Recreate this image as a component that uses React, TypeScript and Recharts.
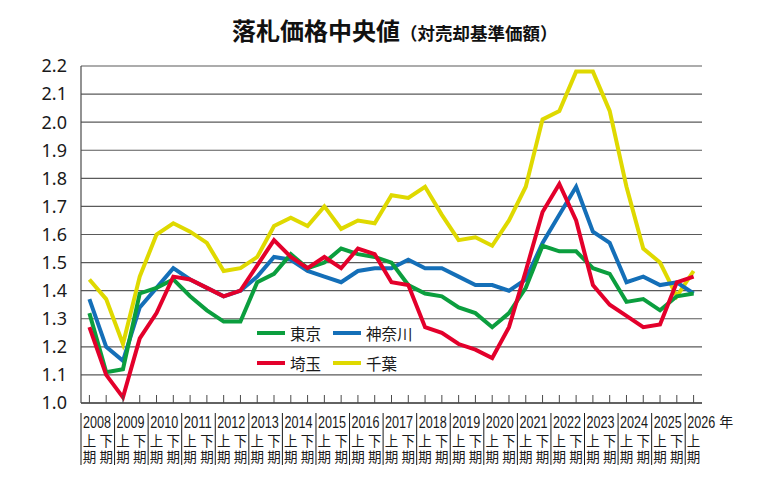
import { LineChart, Line, XAxis, YAxis, CartesianGrid } from "recharts";

// Half-year periods: 2008上期 … 2026上期
const YEARS = [
  "2008", "2009", "2010", "2011", "2012", "2013", "2014", "2015", "2016", "2017",
  "2018", "2019", "2020", "2021", "2022", "2023", "2024", "2025", "2026",
];
const HALVES = ["上", "下"];
const YEAR_UNIT = "年";
const PERIODS = YEARS.flatMap((y) => HALVES.map((h) => `${y}${h}期`)).slice(0, 37);

// 落札価格中央値 (対売却基準価額)
const TOKYO = [
  1.32, 1.11, 1.12, 1.39, 1.41, 1.44, 1.38, 1.33, 1.29, 1.29,
  1.43, 1.46, 1.53, 1.48, 1.5, 1.55, 1.53, 1.52, 1.5, 1.42,
  1.39, 1.38, 1.34, 1.32, 1.27, 1.32, 1.41, 1.56, 1.54, 1.54,
  1.48, 1.46, 1.36, 1.37, 1.33, 1.38, 1.39,
];
const KANAGAWA = [
  1.37, 1.2, 1.15, 1.34, 1.41, 1.48, 1.44, 1.41, 1.38, 1.4,
  1.45, 1.52, 1.51, 1.47, 1.45, 1.43, 1.47, 1.48, 1.48, 1.51,
  1.48, 1.48, 1.45, 1.42, 1.42, 1.4, 1.44, 1.57, 1.67, 1.77,
  1.61, 1.57, 1.43, 1.45, 1.42, 1.43, 1.39,
];
const SAITAMA = [
  1.27, 1.1, 1.02, 1.23, 1.32, 1.45, 1.44, 1.41, 1.38, 1.4,
  1.49, 1.58, 1.52, 1.48, 1.52, 1.48, 1.55, 1.53, 1.43, 1.42,
  1.27, 1.25, 1.21, 1.19, 1.16, 1.27, 1.47, 1.68, 1.78, 1.65,
  1.42, 1.35, 1.31, 1.27, 1.28, 1.43, 1.45,
];
const CHIBA = [
  1.44, 1.37, 1.21, 1.45, 1.6, 1.64, 1.61, 1.57, 1.47, 1.48,
  1.52, 1.63, 1.66, 1.63, 1.7, 1.62, 1.65, 1.64, 1.74, 1.73,
  1.77, 1.67, 1.58, 1.59, 1.56, 1.65, 1.77, 2.01, 2.04, 2.18,
  2.18, 2.04, 1.77, 1.55, 1.5, 1.38, 1.47,
];
const Y_TICKS = [1.0, 1.1, 1.2, 1.3, 1.4, 1.5, 1.6, 1.7, 1.8, 1.9, 2.0, 2.1, 2.2];

const SERIES = [
  { key: "tokyo", name: "東京", color: "#0b9e3e" },
  { key: "kanagawa", name: "神奈川", color: "#146fb8" },
  { key: "saitama", name: "埼玉", color: "#e3002b" },
  { key: "chiba", name: "千葉", color: "#dfd900" },
];
// later entries are painted on top
const DRAW_ORDER = ["chiba", "kanagawa", "tokyo", "saitama"];

const rows = PERIODS.map((period, i) => ({
  i,
  period,
  tokyo: TOKYO[i],
  kanagawa: KANAGAWA[i],
  saitama: SAITAMA[i],
  chiba: CHIBA[i],
}));

const W = 763;
const H = 496;
const MARGIN = { top: 66, right: 61, bottom: 8, left: 11 };
const Y_AXIS_W = 70;
const X_AXIS_H = H - MARGIN.top - MARGIN.bottom - 337;
const BAND = (W - MARGIN.left - MARGIN.right - Y_AXIS_W) / PERIODS.length;
const YEAR_TEXT_W = 28; // the source uses a condensed face; squeeze to fit each year cell

const INK = "#1a1a1a";
const AXIS = "#4a4a4a";
const CJK = "'Noto Sans CJK JP', 'Noto Sans', sans-serif";
const LATIN = "'Liberation Sans', 'Noto Sans', sans-serif";

function PeriodTick(props: any) {
  const { x, y, payload } = props;
  const i = payload.value as number;
  const half = i % 2;
  const yearIdx = Math.floor(i / 2);
  const edge = x - BAND / 2;
  const isLastYear = yearIdx === YEARS.length - 1;
  return (
    <g>
      <line x1={x} x2={x} y1={y} y2={y - 8} stroke={AXIS} strokeWidth={1} />
      {half === 0 && (
        <>
          <line x1={edge} x2={edge} y1={y + 10} y2={y + 62} stroke={INK} strokeWidth={1} />
          <text
            x={edge + 2}
            y={y + 25}
            fontSize={16}
            fontFamily={LATIN}
            fill={INK}
            textLength={YEAR_TEXT_W}
            lengthAdjust="spacingAndGlyphs"
          >
            {YEARS[yearIdx]}
          </text>
          {isLastYear && (
            <text x={edge + 6 + YEAR_TEXT_W} y={y + 24} fontSize={14} fontFamily={CJK} fill={INK}>
              {YEAR_UNIT}
            </text>
          )}
        </>
      )}
      <text x={x} y={y + 43} textAnchor="middle" fontSize={13.5} fontFamily={CJK} fill={INK}>
        {HALVES[half]}
      </text>
      <text x={x} y={y + 59} textAnchor="middle" fontSize={13.5} fontFamily={CJK} fill={INK}>
        期
      </text>
    </g>
  );
}

function LegendBox() {
  const rowsOf = [SERIES.slice(0, 2), SERIES.slice(2, 4)];
  return (
    <div style={{ position: "absolute", left: 257, top: 323, fontFamily: CJK, color: INK }}>
      {rowsOf.map((row, r) => (
        <div key={r} style={{ display: "flex", alignItems: "center", height: 20, marginBottom: 10 }}>
          {row.map((s) => (
            <div
              key={s.key}
              style={{ display: "flex", alignItems: "center", width: 76, whiteSpace: "nowrap" }}
            >
              <span style={{ width: 28, height: 4, background: s.color, marginRight: 5, flex: "none" }} />
              <span style={{ fontSize: 15.5, lineHeight: "20px" }}>{s.name}</span>
            </div>
          ))}
        </div>
      ))}
    </div>
  );
}

export default function App() {
  return (
    <div style={{ position: "absolute", left: 0, top: 0, width: W, height: H, background: "#fff" }}>
      <div
        style={{
          position: "absolute",
          left: 232,
          top: 18,
          display: "flex",
          alignItems: "baseline",
          whiteSpace: "nowrap",
          fontFamily: CJK,
          fontWeight: 700,
          color: "#111",
          lineHeight: 1,
        }}
      >
        <span style={{ fontSize: 24 }}>落札価格中央値</span>
        <span style={{ fontSize: 17.5 }}>（対売却基準価額）</span>
      </div>
      <LineChart width={W} height={H} data={rows} margin={MARGIN}>
        <CartesianGrid vertical={false} stroke="#5a5a5a" strokeWidth={1.2} />
        <XAxis
          dataKey="i"
          type="number"
          domain={[-0.5, PERIODS.length - 0.5]}
          ticks={PERIODS.map((_, i) => i)}
          interval={0}
          height={X_AXIS_H}
          tickLine={false}
          tickSize={0}
          tickMargin={0}
          axisLine={{ stroke: AXIS, strokeWidth: 1.5 }}
          tick={<PeriodTick />}
        />
        <YAxis
          type="number"
          domain={[1.0, 2.2]}
          ticks={Y_TICKS}
          interval={0}
          width={Y_AXIS_W}
          tickLine={false}
          tickSize={0}
          tickMargin={14}
          axisLine={{ stroke: AXIS, strokeWidth: 1.2 }}
          tickFormatter={(v: number) => v.toFixed(1)}
          tick={{ fontSize: 18, fill: INK, fontFamily: "'Noto Sans', sans-serif" }}
        />
        {DRAW_ORDER.map((k) => {
          const s = SERIES.find((d) => d.key === k)!;
          return (
            <Line
              key={k}
              type="linear"
              dataKey={k}
              name={s.name}
              stroke={s.color}
              strokeWidth={4}
              dot={false}
              activeDot={false}
              isAnimationActive={false}
            />
          );
        })}
      </LineChart>
      <LegendBox />
    </div>
  );
}
